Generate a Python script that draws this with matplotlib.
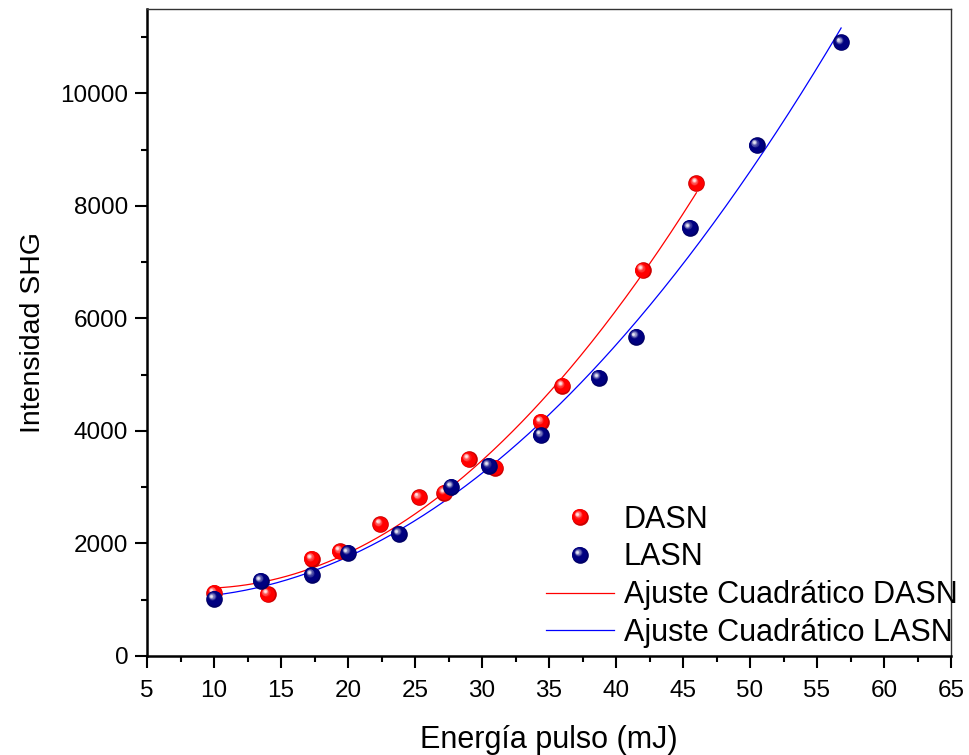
import numpy as np
import matplotlib
matplotlib.use("Agg")
import matplotlib.pyplot as plt
from matplotlib.transforms import ScaledTranslation
from matplotlib.lines import Line2D
from matplotlib.legend_handler import HandlerBase
from matplotlib.ticker import MultipleLocator
from matplotlib.colors import to_rgb

plt.rcParams['font.family'] = ['Liberation Sans', 'DejaVu Sans']

# Pulse energy (mJ) and SHG intensity for each crystal
dasn_energy = [10.0, 14.0, 17.3, 19.4, 22.4, 25.3, 27.2, 29.0, 31.0, 34.4, 36.0, 42.0, 46.0]
dasn_shg = [1120, 1100, 1725, 1865, 2345, 2820, 2905, 3500, 3345, 4160, 4800, 6860, 8405]

lasn_energy = [10.0, 13.5, 17.3, 20.0, 23.8, 27.7, 30.5, 34.4, 38.7, 41.5, 45.5, 50.5, 56.8]
lasn_shg = [1020, 1340, 1440, 1835, 2175, 3010, 3380, 3925, 4945, 5675, 7615, 9080, 10905]

series_labels = ["DASN", "LASN"]
fit_labels = ["Ajuste Cuadrático DASN", "Ajuste Cuadrático LASN"]

RED = "#ff0000"
NAVY = "#000080"
MARKER_SIZE = 12.0


def mix(c, other, t):
    a = np.array(to_rgb(c))
    b = np.array(to_rgb(other))
    return tuple(a * (1 - t) + b * t)


def sphere_layers(color):
    """(scale, rgb, dx, dy) layers of a shaded ball, largest first.
    Offsets are in units of the ball radius."""
    layers = [(1.0, mix(color, "black", 0.2), 0.0, 0.0),
              (0.9, color, -0.06, 0.06)]
    n = 7
    for k in range(n):
        t = k / (n - 1)
        scale = 0.5 - 0.36 * t
        rgb = mix(color, "white", 0.1 + 0.8 * t ** 1.2)
        layers.append((scale, rgb, -0.25 - 0.08 * t, 0.28 + 0.08 * t))
    return layers


def draw_spheres(ax, x, y, color, size):
    fig = ax.figure
    radius_in = size / 72.0 / 2.0
    for scale, rgb, dx, dy in sphere_layers(color):
        off = ScaledTranslation(dx * radius_in, dy * radius_in, fig.dpi_scale_trans)
        ax.plot(x, y, linestyle="none", marker="o", markersize=size * scale,
                markerfacecolor=rgb, markeredgewidth=0, transform=ax.transData + off,
                zorder=5, clip_on=False)


class SphereHandler(HandlerBase):
    def __init__(self, color, size):
        super().__init__()
        self.color = color
        self.size = size

    def create_artists(self, legend, orig_handle, xdescent, ydescent, width, height,
                       fontsize, trans):
        cx = width / 2 - xdescent
        cy = height / 2 - ydescent
        r = self.size / 2.0
        arts = []
        for scale, rgb, dx, dy in sphere_layers(self.color):
            ln = Line2D([cx + dx * r], [cy + dy * r], linestyle="none",
                        marker="o", markersize=self.size * scale, markerfacecolor=rgb,
                        markeredgewidth=0)
            ln.set_transform(trans)
            arts.append(ln)
        return arts


fig = plt.figure(figsize=(9.69, 7.55), dpi=100)
ax = fig.add_axes([147 / 969, 1 - 656 / 755, (951 - 147) / 969, (656 - 9) / 755])

# Quadratic fits
fit_lines = []
for xs, ys, col in [(dasn_energy, dasn_shg, "#ff0000"), (lasn_energy, lasn_shg, "#0000ff")]:
    coef = np.polyfit(xs, ys, 2)
    xx = np.linspace(min(xs), max(xs), 300)
    ln, = ax.plot(xx, np.polyval(coef, xx), color=col, linewidth=0.9, zorder=3)
    fit_lines.append(ln)

draw_spheres(ax, dasn_energy, dasn_shg, RED, MARKER_SIZE)
draw_spheres(ax, lasn_energy, lasn_shg, NAVY, MARKER_SIZE)

ax.set_xlim(5, 65)
ax.set_ylim(0, 11500)
ax.xaxis.set_major_locator(MultipleLocator(5))
ax.xaxis.set_minor_locator(MultipleLocator(2.5))
ax.yaxis.set_major_locator(MultipleLocator(2000))
ax.yaxis.set_minor_locator(MultipleLocator(1000))

for side in ["left", "bottom"]:
    ax.spines[side].set_linewidth(1.8)
    ax.spines[side].set_color("black")
for side in ["top", "right"]:
    ax.spines[side].set_linewidth(1.0)
    ax.spines[side].set_color("#333333")

ax.tick_params(axis="both", which="major", direction="out", length=8.5, width=1.5,
               labelsize=17.5, top=False, right=False)
ax.tick_params(axis="x", which="major", pad=9)
ax.tick_params(axis="y", which="major", pad=5)
ax.tick_params(axis="both", which="minor", direction="out", length=4.5, width=1.5,
               top=False, right=False)

ax.set_xlabel("Energía pulso (mJ)", fontsize=22, labelpad=16)
ax.set_ylabel("Intensidad SHG", fontsize=20.5, labelpad=10)

dummy_r = Line2D([], [], linestyle="none")
dummy_b = Line2D([], [], linestyle="none")
leg = fig.legend([dummy_r, dummy_b] + fit_lines, series_labels + fit_labels,
                 handler_map={dummy_r: SphereHandler(RED, MARKER_SIZE),
                              dummy_b: SphereHandler(NAVY, MARKER_SIZE)},
                 loc="lower left", bbox_to_anchor=(546 / 969, 1 - 648 / 755),
                 frameon=False, fontsize=22, handlelength=2.22, handletextpad=0.33,
                 labelspacing=0.255, borderpad=0, borderaxespad=0)

fig.savefig("out.png", dpi=100)
